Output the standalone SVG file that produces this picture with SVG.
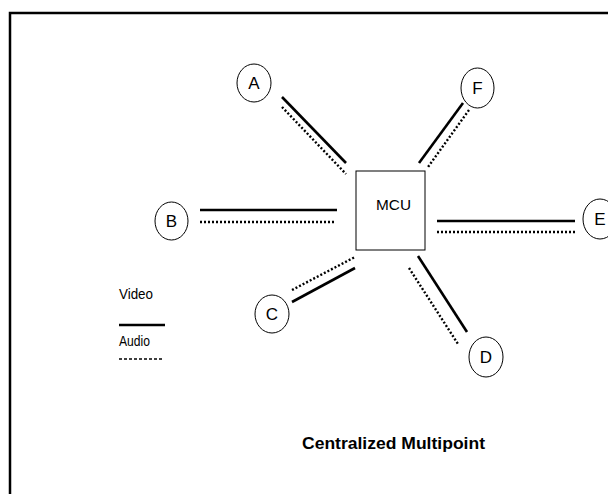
<svg xmlns="http://www.w3.org/2000/svg" width="608" height="494" viewBox="0 0 608 494">
<style>
.node ellipse{fill:#fff;stroke:#000;stroke-width:1}
.node text{font-family:"Liberation Sans",Arial,sans-serif;font-size:17px;text-anchor:middle;fill:#000}
.solid{stroke:#000;stroke-width:2.6;fill:none}
.dot{stroke:#000;stroke-width:2.4;stroke-dasharray:2 2;fill:none}
.lbl{font-family:"Liberation Sans",Arial,sans-serif;font-size:14px;fill:#000}
</style>
<rect x="0" y="0" width="608" height="494" fill="#fff"/>
<rect x="10" y="13" width="640" height="520" fill="none" stroke="#000" stroke-width="2.5"/>
<g id="connectors">
<line class="solid" x1="282" y1="97" x2="346" y2="163"/>
<line class="dot" x1="282" y1="107" x2="346" y2="174"/>
<line class="solid" x1="463" y1="103" x2="419" y2="163"/>
<line class="dot" x1="469" y1="110" x2="428" y2="167"/>
<line class="solid" x1="200" y1="210" x2="337" y2="210"/>
<line class="dot" x1="200" y1="222" x2="336" y2="222"/>
<line class="solid" x1="437" y1="221" x2="575" y2="221"/>
<line class="dot" x1="437" y1="232" x2="575" y2="232"/>
<line class="dot" x1="292" y1="290" x2="355" y2="257"/>
<line class="solid" x1="292" y1="302" x2="355" y2="268"/>
<line class="solid" x1="418" y1="256" x2="467" y2="332"/>
<line class="dot" x1="409" y1="268" x2="458" y2="344"/>
</g>
<g id="MCU" class="node">
<rect x="356" y="171" width="69" height="79" fill="#fff" stroke="#000" stroke-width="1"/>
<text x="393.5" y="210" style="font-size:15px" textLength="35" lengthAdjust="spacingAndGlyphs">MCU</text>
</g>
<g id="A" class="node"><ellipse cx="254" cy="83" rx="17" ry="19"/><text x="254" y="89">A</text></g>
<g id="F" class="node"><ellipse cx="477.5" cy="88" rx="16.5" ry="20"/><text x="477.5" y="94">F</text></g>
<g id="B" class="node"><ellipse cx="171.5" cy="221" rx="16.5" ry="19"/><text x="171.5" y="227">B</text></g>
<g id="E" class="node"><ellipse cx="600" cy="219" rx="17" ry="20"/><text x="600" y="225">E</text></g>
<g id="C" class="node"><ellipse cx="272" cy="314" rx="17" ry="19"/><text x="272" y="320">C</text></g>
<g id="D" class="node"><ellipse cx="486" cy="357" rx="17" ry="20"/><text x="486" y="363">D</text></g>
<g id="legend">
<text class="lbl" x="119" y="299" textLength="34" lengthAdjust="spacingAndGlyphs">Video</text>
<line class="solid" x1="119" y1="325" x2="165" y2="325"/>
<text class="lbl" x="119" y="346" textLength="31" lengthAdjust="spacingAndGlyphs">Audio</text>
<line stroke="#000" stroke-width="1.5" stroke-dasharray="3 2" x1="119" y1="359" x2="163" y2="359"/>
</g>
<text x="302" y="449" font-family="'Liberation Sans',Arial,sans-serif" font-size="17" font-weight="bold" textLength="183" lengthAdjust="spacingAndGlyphs">Centralized Multipoint</text>
</svg>
